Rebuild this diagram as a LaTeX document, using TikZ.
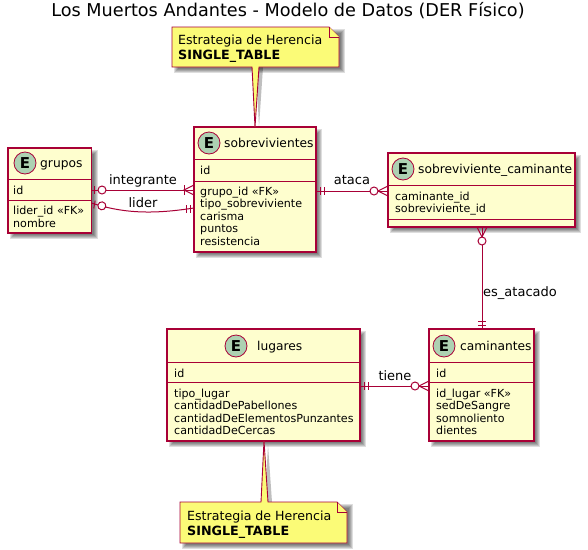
\documentclass[tikz,border=0pt]{standalone}
\usepackage{fontspec}
\setmainfont{DejaVu Sans}
\definecolor{bd}{HTML}{A80036}
\definecolor{ef}{HTML}{FEFECE}
\definecolor{cf}{HTML}{ADD1B2}
\definecolor{nf}{HTML}{FBFB77}
\tikzset{
  x=1pt,y=-1pt,
  entbox/.style={draw=bd,fill=ef,line width=1.05pt,inner sep=0pt,outer sep=0pt},
  sepline/.style={draw=bd,line width=.9pt},
  conn/.style={draw=bd,line width=1pt},
  attr/.style={anchor=base west,inner sep=0pt,font=\fontsize{11.1}{12}\selectfont},
  enttitle/.style={anchor=base west,inner sep=0pt,font=\fontsize{12.25}{14}\selectfont},
  lab/.style={anchor=base,inner sep=0pt,font=\fontsize{13}{14}\selectfont},
  ecirc/.style={circle,draw=bd,fill=cf,line width=.8pt,minimum size=22pt,inner sep=0pt,font=\fontsize{15}{16}\selectfont\bfseries},
  notebox/.style={draw=bd,fill=nf,line width=.9pt,line join=miter},
  notetext/.style={anchor=base west,inner sep=0pt,font=\fontsize{12.6}{14}\selectfont},
  zeroone/.pic={\draw[conn] (3,-4)--(3,4); \draw[conn,fill=white] (10.5,0) circle (4);},
  onemany/.pic={\draw[conn] (0,-5)--(10,0)--(0,5); \draw[conn] (10,-5)--(10,5);},
  zeromany/.pic={\draw[conn] (0,-5)--(10,0)--(0,5); \draw[conn,fill=white] (14,0) circle (4);},
  oneone/.pic={\draw[conn] (4,-4)--(4,4); \draw[conn] (8,-4)--(8,4);},
}
\newcommand{\softshadow}[4]{%
  \foreach \s in {0,1,2,3,4}{
    \fill[black,opacity=.13] ({#1+2+\s},{#2+2+\s}) rectangle ({#3+6-\s},{#4+6-\s});
  }}
\newcommand{\entity}[7]{% name x1 y1 x2 y2 sep1 sep2
  \softshadow{#2}{#3}{#4}{#5}
  \node[entbox,minimum width={(#4-#2)*1pt},minimum height={(#5-#3)*1pt}] (#1) at ({(#2+#4)/2},{(#3+#5)/2}) {};
  \draw[sepline] (#2,#6) -- (#4,#6);
  \draw[sepline] (#2,#7) -- (#4,#7);
}
\newcommand{\etitle}[5]{% name cx cy tx text
  \node[ecirc] (#1c) at (#2,#3) {E};
  \node[enttitle] (#1t) at (#4,#3+4.5) {#5};
}
\newcommand{\attrlist}[4]{% name x y0 list
  \foreach \t [count=\i] in {#4}{
    \node[attr] (#1a\i) at (#2,{#3+(\i-1)*12.65}) {\t};
  }}
\newcommand{\fk}{«FK»}
\begin{document}
\begin{tikzpicture}
\useasboundingbox (0,0) rectangle (588,549);
\fill[white] (0,0) rectangle (588,549);

\node[anchor=base,inner sep=0pt,font=\fontsize{17.65}{20}\selectfont] (titulo) at (288,16.5) {Los Muertos Andantes - Modelo de Datos (DER Físico)};

% entities
\entity{grupos}{8}{148}{91.5}{233}{179}{200}
\etitle{grupos}{25}{163}{40}{grupos}
\node[attr] (gid) at (13,194) {id};
\attrlist{grupos}{13}{214.5}{lider\_id \fk,nombre}

\entity{sob}{194}{127}{316}{252}{159}{181}
\etitle{sob}{209}{143}{224}{sobrevivientes}
\node[attr] (sid) at (200,174) {id};
\attrlist{sob}{200}{195}{grupo\_id \fk,tipo\_sobreviviente,carisma,puntos,resistencia}

\entity{sc}{388}{153}{575}{227}{185}{219}
\etitle{sc}{403}{169}{418}{sobreviviente\_caminante}
\attrlist{sc}{395}{200}{caminante\_id,sobreviviente\_id}

\entity{lug}{167}{329}{360}{441}{362}{382}
\etitle{lug}{236}{346}{257}{lugares}
\node[attr] (lid) at (174,377) {id};
\attrlist{lug}{174}{397}{tipo\_lugar,cantidadDePabellones,cantidadDeElementosPunzantes,cantidadDeCercas}

\entity{cam}{429}{329}{534}{441}{362}{382}
\etitle{cam}{444}{346}{460}{caminantes}
\node[attr] (cid) at (436,377) {id};
\attrlist{cam}{436}{397}{id\_lugar \fk,sedDeSangre,somnoliento,dientes}

% connectors
\draw[conn] (grupos.east |- 0,190) -- (sob.west |- 0,190);
\pic at (grupos.east |- 0,190) {zeroone};
\pic[rotate=180] at (sob.west |- 0,190) {onemany};
\node[lab] (lint) at (143,184.5) {integrante};

\draw[conn] (grupos.east |- 0,203) .. controls (125,214) and (155,214) .. (sob.west |- 0,208);
\pic[rotate=-10] at (grupos.east |- 0,204) {zeroone};
\pic[rotate=180] at (sob.west |- 0,208.5) {oneone};
\node[lab] (llid) at (143,207.5) {lider};

\draw[conn] (sob.east |- 0,191) -- (sc.west |- 0,191);
\pic at (sob.east |- 0,191) {oneone};
\pic[rotate=180] at (sc.west |- 0,191) {zeromany};
\node[lab] (lata) at (352,184.5) {ataca};

\draw[conn] (sc.south -| 482,0) -- (cam.north -| 482,0);
\pic[rotate=-90] at (sc.south -| 482,0) {zeromany};
\pic[rotate=90] at (cam.north -| 482,0) {oneone};
\node[lab,anchor=base west] (les) at (483,296) {es\_atacado};

\draw[conn] (lug.east |- 0,386) -- (cam.west |- 0,386);
\pic at (lug.east |- 0,386) {oneone};
\pic[rotate=180] at (cam.west |- 0,386) {zeromany};
\node[lab] (ltie) at (395,380) {tiene};

% notes
\foreach \s in {0,1,2,3,4}{
  \fill[black,opacity=.13] ({172+2+\s},{27+2+\s}) rectangle ({339+6-\s},{67+6-\s});
  \fill[black,opacity=.13] ({180+2+\s},{502+2+\s}) rectangle ({347+6-\s},{543+6-\s});
}
\fill[black,opacity=.25] (256,67) -- (259,127) -- (263,67) -- cycle;
\fill[black,opacity=.25] (265,502) -- (268,445) -- (272,502) -- cycle;
\draw[notebox] (172,27) -- (329,27) -- (339,37) -- (339,67) -- (259,67) -- (sob.north -| 255,0) -- (252,67) -- (172,67) -- cycle;
\draw[notebox] (329,27) -- (329,37) -- (339,37);
\node[notetext] (n1a) at (178,44) {Estrategia de Herencia};
\node[notetext,font=\fontsize{12.7}{14}\selectfont\bfseries] (n1b) at (178,59) {SINGLE\_TABLE};

\draw[notebox] (180,502) -- (261,502) -- (lug.south -| 264,0) -- (268,502) -- (337,502) -- (347,512) -- (347,543) -- (180,543) -- cycle;
\draw[notebox] (337,502) -- (337,512) -- (347,512);
\node[notetext] (n2a) at (187,520) {Estrategia de Herencia};
\node[notetext,font=\fontsize{12.7}{14}\selectfont\bfseries] (n2b) at (187,535) {SINGLE\_TABLE};
\end{tikzpicture}
\end{document}
